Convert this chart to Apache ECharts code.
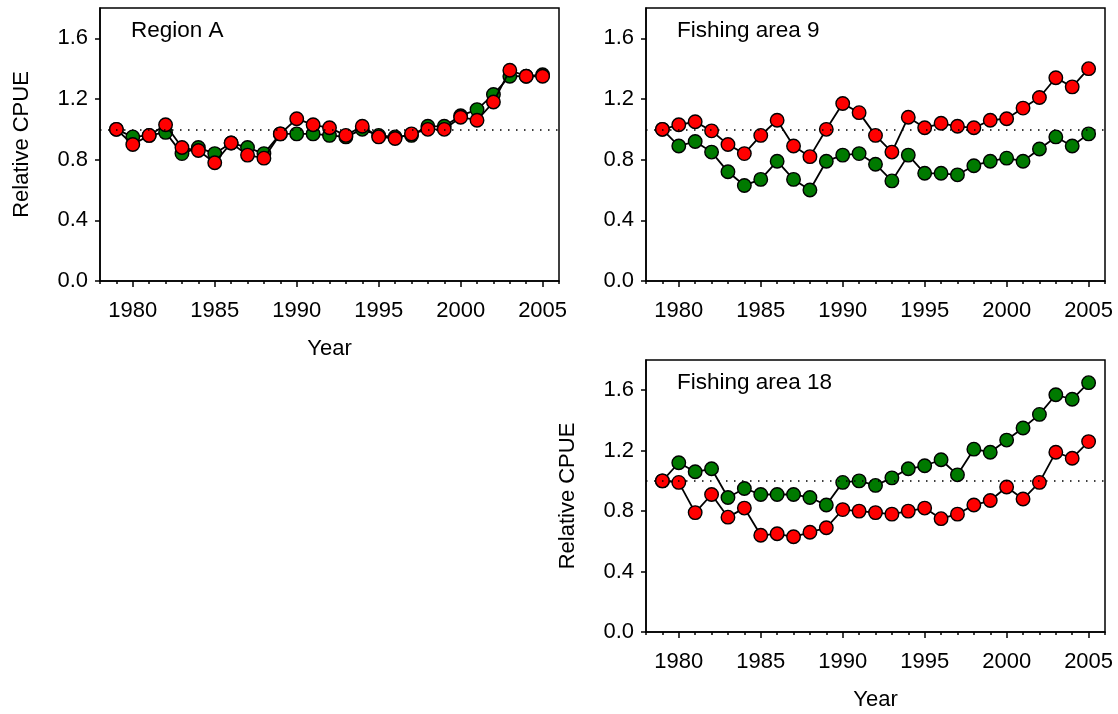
<!DOCTYPE html>
<html>
<head>
<meta charset="utf-8">
<title>Relative CPUE</title>
<script src="https://cdn.jsdelivr.net/npm/echarts@6/dist/echarts.min.js"></script>
<style>
  html, body { margin: 0; padding: 0; background: #fff; }
  #chart { width: 1118px; height: 714px; }
</style>
</head>
<body>
<div id="chart"></div>
<script>
// Survey years
const years = [1979, 1980, 1981, 1982, 1983, 1984, 1985, 1986, 1987, 1988, 1989,
  1990, 1991, 1992, 1993, 1994, 1995, 1996, 1997, 1998, 1999,
  2000, 2001, 2002, 2003, 2004, 2005];

// Region A
const regionAGreen = [1.00, 0.95, 0.96, 0.98, 0.84, 0.88, 0.84, 0.91, 0.88, 0.84, 0.97,
  0.97, 0.97, 0.96, 0.95, 1.00, 0.96, 0.95, 0.96, 1.02, 1.02,
  1.09, 1.13, 1.23, 1.35, 1.35, 1.36];
const regionARed = [1.00, 0.90, 0.96, 1.03, 0.88, 0.86, 0.78, 0.91, 0.83, 0.81, 0.97,
  1.07, 1.03, 1.01, 0.96, 1.02, 0.95, 0.94, 0.97, 1.00, 1.00,
  1.08, 1.06, 1.18, 1.39, 1.35, 1.35];

// Fishing area 9
const area9Green = [1.00, 0.89, 0.92, 0.85, 0.72, 0.63, 0.67, 0.79, 0.67, 0.60, 0.79,
  0.83, 0.84, 0.77, 0.66, 0.83, 0.71, 0.71, 0.70, 0.76, 0.79,
  0.81, 0.79, 0.87, 0.95, 0.89, 0.97];
const area9Red = [1.00, 1.03, 1.05, 0.99, 0.90, 0.84, 0.96, 1.06, 0.89, 0.82, 1.00,
  1.17, 1.11, 0.96, 0.85, 1.08, 1.01, 1.04, 1.02, 1.01, 1.06,
  1.07, 1.14, 1.21, 1.34, 1.28, 1.40];

// Fishing area 18
const area18Green = [1.00, 1.12, 1.06, 1.08, 0.89, 0.95, 0.91, 0.91, 0.91, 0.89, 0.84,
  0.99, 1.00, 0.97, 1.02, 1.08, 1.10, 1.14, 1.04, 1.21, 1.19,
  1.27, 1.35, 1.44, 1.57, 1.54, 1.65];
const area18Red = [1.00, 0.99, 0.79, 0.91, 0.76, 0.82, 0.64, 0.65, 0.63, 0.66, 0.69,
  0.81, 0.80, 0.79, 0.78, 0.80, 0.82, 0.75, 0.78, 0.84, 0.87,
  0.96, 0.88, 0.99, 1.19, 1.15, 1.26];

// Axis ticks
const yTicks = [0, 0.4, 0.8, 1.2, 1.6];
const xMajorTicks = [1980, 1985, 1990, 1995, 2000, 2005];
const referenceLevel = 1.0;

const panelTitles = ['Region A', 'Fishing area 9', 'Fishing area 18'];
const yAxisName = 'Relative CPUE';
const xAxisName = 'Year';

const FONT = 'Liberation Sans, Arial, sans-serif';
const GREEN = '#007a00';
const RED = '#ff0000';

const grids = [
  { left: 100, top: 8, width: 459, height: 273 },
  { left: 646, top: 8, width: 459, height: 273 },
  { left: 646, top: 360, width: 459, height: 272 }
];
const panelSeries = [
  [regionAGreen, regionARed],
  [area9Green, area9Red],
  [area18Green, area18Red]
];
const showNames = [true, false, true];

const pairs = vals => years.map((y, i) => [y, vals[i]]);

const option = {
  animation: false,
  backgroundColor: '#fff',
  textStyle: { fontFamily: FONT },
  title: [],
  grid: [],
  xAxis: [],
  yAxis: [],
  series: []
};

grids.forEach((g, k) => {
  option.grid.push(Object.assign({ show: true, borderColor: '#000', borderWidth: 1.5, backgroundColor: 'transparent' }, g));

  option.title.push({
    text: panelTitles[k],
    left: g.left + 31,
    top: g.top + 11,
    padding: 0,
    textStyle: { fontFamily: FONT, fontSize: 22.5, fontWeight: 'normal', color: '#000' }
  });

  // main x axis: labels and yearly ticks
  option.xAxis.push({
    type: 'value', gridIndex: k, position: 'bottom', min: 1978, max: 2006, interval: 1,
    name: showNames[k] ? xAxisName : '',
    nameLocation: 'middle', nameGap: 57,
    nameTextStyle: { fontFamily: FONT, fontSize: 22, color: '#000' },
    axisLine: { show: true, lineStyle: { color: '#000', width: 1.5 } },
    axisTick: { show: true, inside: false, length: 3, lineStyle: { color: '#000', width: 1.5 } },
    axisLabel: {
      customValues: xMajorTicks, margin: 19,
      formatter: v => String(v),
      fontFamily: FONT, fontSize: 22, color: '#000'
    },
    splitLine: { show: false }
  });
  // overlay x axis: longer ticks at labelled years
  option.xAxis.push({
    type: 'value', gridIndex: k, position: 'bottom', min: 1978, max: 2006, interval: 1,
    axisLine: { show: false },
    axisTick: { show: true, customValues: xMajorTicks, length: 6, lineStyle: { color: '#000', width: 1.5 } },
    axisLabel: { show: false },
    splitLine: { show: false }
  });

  option.yAxis.push({
    type: 'value', gridIndex: k, min: 0, max: 1.8, interval: 0.2,
    name: showNames[k] ? yAxisName : '',
    nameLocation: 'middle', nameGap: 67,
    nameTextStyle: { fontFamily: FONT, fontSize: 22, color: '#000' },
    axisLine: { show: true, lineStyle: { color: '#000', width: 1.5 } },
    axisTick: { show: true, customValues: yTicks, length: 5, lineStyle: { color: '#000', width: 1.5 } },
    axisLabel: {
      customValues: yTicks, margin: 12,
      formatter: v => v.toFixed(1),
      fontFamily: FONT, fontSize: 22, color: '#000'
    },
    splitLine: { show: false }
  });

  const xi = k * 2;

  // dotted reference line at 1.0
  option.series.push({
    type: 'line', xAxisIndex: xi, yAxisIndex: k, data: [], z: 1, silent: true,
    markLine: {
      silent: true, symbol: 'none', animation: false,
      label: { show: false },
      lineStyle: { color: '#000', width: 1.5, type: [1.5, 6.5] },
      data: [{ yAxis: referenceLevel }]
    }
  });

  [GREEN, RED].forEach((col, s) => {
    option.series.push({
      type: 'line', xAxisIndex: xi, yAxisIndex: k, z: 2 + s,
      data: pairs(panelSeries[k][s]),
      symbol: 'circle', symbolSize: 13.5, showAllSymbol: true,
      itemStyle: { color: col, borderColor: '#000', borderWidth: 1.4 },
      lineStyle: { color: '#000', width: 1.8 },
      emphasis: { disabled: true },
      silent: true
    });
  });
});

const chart = echarts.init(document.getElementById('chart'), null, { renderer: 'canvas' });
chart.setOption(option);
</script>
</body>
</html>
